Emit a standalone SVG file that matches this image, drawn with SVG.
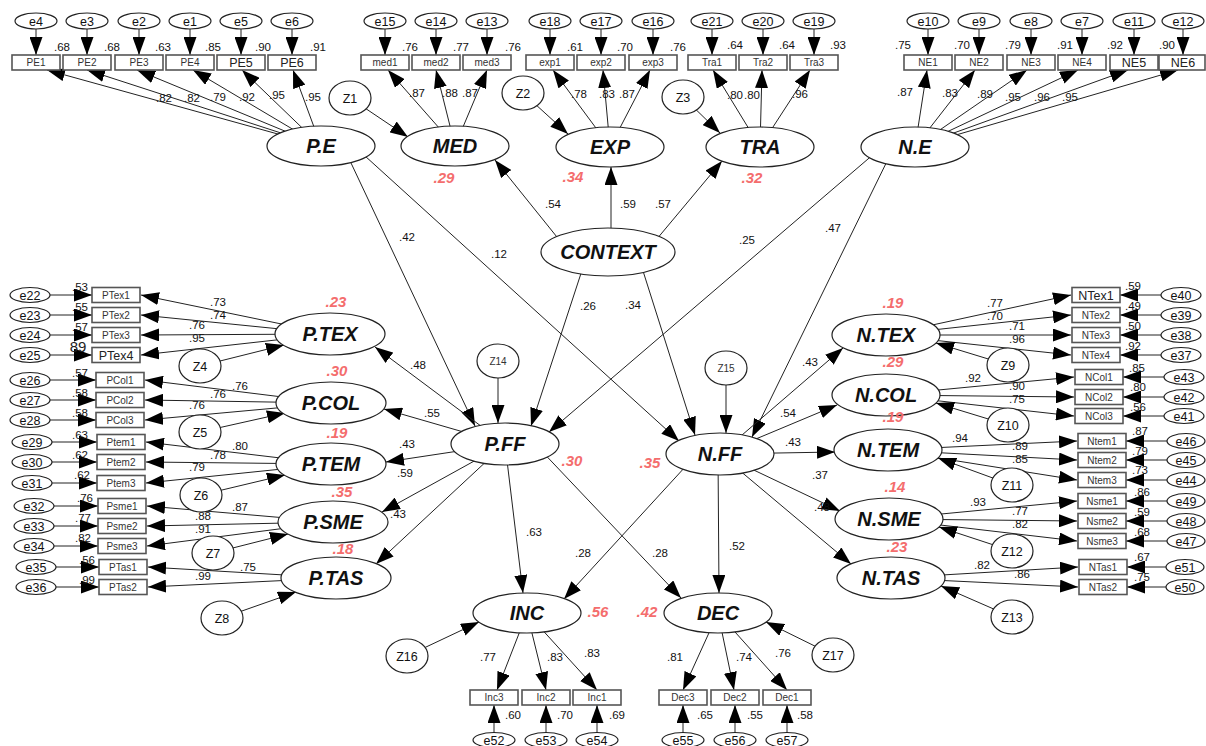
<svg xmlns="http://www.w3.org/2000/svg" width="1206" height="746" viewBox="0 0 1206 746">
<defs>
<marker id="a" markerUnits="userSpaceOnUse" markerWidth="18" markerHeight="13" viewBox="0 0 18 13" refX="18" refY="6.5" orient="auto"><path d="M0,0 L18,6.5 L0,13 z" fill="#000"/></marker>
</defs>
<style>
line{stroke:#222;stroke-width:1;marker-end:url(#a)}
.L{fill:#fff;stroke:#222;stroke-width:1.2}
.B{fill:#fff;stroke:#555;stroke-width:1.6}
.E{fill:#fff;stroke:#222;stroke-width:1.2}
text{font-family:"Liberation Sans",Arial,sans-serif;text-anchor:middle;fill:#111}
.lt{font-size:20px;font-weight:bold;font-style:italic}
.bt{font-size:10px;fill:#333}
.bb{font-size:12.5px;fill:#222}
.et{font-size:12.5px}
.n{font-size:11.5px}
.r{font-size:15px;font-weight:bold;font-style:italic;fill:#f46d6d}
</style>
<rect width="1206" height="746" fill="#fff"/>
<g id="connectors">
<line x1="36" y1="21" x2="36" y2="55"/><line x1="87" y1="21" x2="87" y2="55"/><line x1="139" y1="21" x2="139" y2="55"/><line x1="190" y1="21" x2="190" y2="55"/><line x1="241" y1="21" x2="241" y2="55"/><line x1="292" y1="21" x2="292" y2="55"/>
<line x1="385" y1="21" x2="385" y2="55"/><line x1="436" y1="21" x2="436" y2="55"/><line x1="487" y1="21" x2="487" y2="55"/>
<line x1="550" y1="21" x2="550" y2="55"/><line x1="601" y1="21" x2="601" y2="55"/><line x1="653" y1="21" x2="653" y2="55"/>
<line x1="712" y1="21" x2="712" y2="55"/><line x1="763" y1="21" x2="763" y2="55"/><line x1="814" y1="21" x2="814" y2="55"/>
<line x1="928" y1="21" x2="928" y2="55"/><line x1="979" y1="21" x2="979" y2="55"/><line x1="1031" y1="21" x2="1031" y2="55"/><line x1="1082" y1="21" x2="1082" y2="55"/><line x1="1134" y1="21" x2="1134" y2="55"/><line x1="1183" y1="21" x2="1183" y2="55"/>
<line x1="321" y1="146" x2="47" y2="70"/><line x1="321" y1="146" x2="87" y2="70"/><line x1="321" y1="146" x2="137" y2="70"/><line x1="321" y1="146" x2="193" y2="70"/><line x1="321" y1="146" x2="242" y2="70"/><line x1="321" y1="146" x2="293" y2="70"/>
<line x1="455" y1="146" x2="388" y2="70"/><line x1="455" y1="146" x2="436" y2="70"/><line x1="455" y1="146" x2="487" y2="70"/>
<line x1="610" y1="147" x2="553" y2="70"/><line x1="610" y1="147" x2="603" y2="70"/><line x1="610" y1="147" x2="650" y2="70"/>
<line x1="760" y1="147" x2="713" y2="70"/><line x1="760" y1="147" x2="762" y2="70"/><line x1="760" y1="147" x2="810" y2="70"/>
<line x1="915" y1="147" x2="927" y2="70"/><line x1="915" y1="147" x2="975" y2="70"/><line x1="915" y1="147" x2="1027" y2="70"/><line x1="915" y1="147" x2="1078" y2="70"/><line x1="915" y1="147" x2="1128" y2="70"/><line x1="915" y1="147" x2="1178" y2="70"/>
<line x1="30" y1="295" x2="92" y2="295"/><line x1="30" y1="315" x2="92" y2="315"/><line x1="30" y1="335" x2="92" y2="335"/><line x1="30" y1="355" x2="92" y2="355"/>
<line x1="30" y1="380" x2="96" y2="380"/><line x1="30" y1="400" x2="96" y2="400"/><line x1="30" y1="420" x2="96" y2="420"/>
<line x1="32" y1="442" x2="97" y2="442"/><line x1="32" y1="462" x2="97" y2="462"/><line x1="32" y1="483" x2="97" y2="483"/>
<line x1="34" y1="506" x2="98" y2="506"/><line x1="34" y1="526" x2="98" y2="526"/><line x1="34" y1="546" x2="98" y2="546"/>
<line x1="36" y1="567" x2="99" y2="567"/><line x1="36" y1="587" x2="99" y2="587"/>
<line x1="330" y1="334" x2="141" y2="295"/><line x1="330" y1="334" x2="141" y2="315"/><line x1="330" y1="334" x2="141" y2="335"/><line x1="330" y1="334" x2="141" y2="355"/>
<line x1="331" y1="403" x2="145" y2="380"/><line x1="331" y1="403" x2="145" y2="400"/><line x1="331" y1="403" x2="145" y2="420"/>
<line x1="331" y1="464" x2="146" y2="442"/><line x1="331" y1="464" x2="146" y2="462"/><line x1="331" y1="464" x2="146" y2="483"/>
<line x1="333" y1="522" x2="147" y2="506"/><line x1="333" y1="522" x2="147" y2="526"/><line x1="333" y1="522" x2="147" y2="546"/>
<line x1="336" y1="578" x2="148" y2="567"/><line x1="336" y1="578" x2="148" y2="587"/>
<line x1="1181" y1="295" x2="1120" y2="295"/><line x1="1181" y1="315" x2="1120" y2="315"/><line x1="1181" y1="335" x2="1120" y2="335"/><line x1="1181" y1="355" x2="1120" y2="355"/>
<line x1="1184" y1="377" x2="1123" y2="377"/><line x1="1184" y1="397" x2="1123" y2="397"/><line x1="1184" y1="416" x2="1123" y2="416"/>
<line x1="1187" y1="441" x2="1126" y2="441"/><line x1="1187" y1="460" x2="1126" y2="460"/><line x1="1187" y1="480" x2="1126" y2="480"/>
<line x1="1187" y1="501" x2="1126" y2="501"/><line x1="1187" y1="521" x2="1126" y2="521"/><line x1="1187" y1="541" x2="1126" y2="541"/>
<line x1="1186" y1="567" x2="1127" y2="567"/><line x1="1186" y1="587" x2="1127" y2="587"/>
<line x1="886" y1="335" x2="1071" y2="295"/><line x1="886" y1="335" x2="1071" y2="315"/><line x1="886" y1="335" x2="1071" y2="335"/><line x1="886" y1="335" x2="1071" y2="355"/>
<line x1="886" y1="395" x2="1074" y2="377"/><line x1="886" y1="395" x2="1074" y2="397"/><line x1="886" y1="395" x2="1074" y2="416"/>
<line x1="888" y1="450" x2="1077" y2="441"/><line x1="888" y1="450" x2="1077" y2="460"/><line x1="888" y1="450" x2="1077" y2="480"/>
<line x1="889" y1="519" x2="1077" y2="501"/><line x1="889" y1="519" x2="1077" y2="521"/><line x1="889" y1="519" x2="1077" y2="541"/>
<line x1="891" y1="578" x2="1078" y2="567"/><line x1="891" y1="578" x2="1078" y2="587"/>
<line x1="527" y1="613" x2="497" y2="690"/><line x1="527" y1="613" x2="546" y2="690"/><line x1="527" y1="613" x2="597" y2="690"/>
<line x1="718" y1="613" x2="683" y2="690"/><line x1="718" y1="613" x2="734" y2="690"/><line x1="718" y1="613" x2="787" y2="690"/>
<line x1="494" y1="740" x2="494" y2="705"/><line x1="546" y1="740" x2="546" y2="705"/><line x1="597" y1="740" x2="597" y2="705"/>
<line x1="683" y1="740" x2="683" y2="705"/><line x1="735" y1="740" x2="735" y2="705"/><line x1="787" y1="740" x2="787" y2="705"/>
<line x1="350" y1="98" x2="408" y2="137"/><line x1="523" y1="93" x2="568" y2="134"/><line x1="683" y1="97" x2="720" y2="133"/>
<line x1="200" y1="366" x2="284" y2="345"/><line x1="200" y1="432" x2="285" y2="413"/><line x1="201" y1="495" x2="285" y2="475"/><line x1="213" y1="553" x2="288" y2="534"/><line x1="222" y1="618" x2="296" y2="592"/>
<line x1="1008" y1="365" x2="936" y2="343"/><line x1="1008" y1="425" x2="936" y2="403"/><line x1="1012" y1="485" x2="938" y2="458"/><line x1="1012" y1="551" x2="939" y2="527"/><line x1="1012" y1="617" x2="941" y2="586"/>
<line x1="498" y1="361" x2="498" y2="423"/><line x1="726" y1="368" x2="726" y2="433"/>
<line x1="407" y1="656" x2="479" y2="622"/><line x1="833" y1="655" x2="766" y2="622"/>
<line x1="343" y1="146" x2="475" y2="426"/><line x1="354" y1="146" x2="679" y2="441"/>
<line x1="569" y1="252" x2="495" y2="160"/><line x1="611" y1="252" x2="611" y2="167"/><line x1="646" y1="252" x2="722" y2="161"/>
<line x1="588" y1="252" x2="531" y2="426"/><line x1="637" y1="252" x2="695" y2="435"/>
<line x1="882" y1="147" x2="549" y2="432"/><line x1="894" y1="147" x2="752" y2="437"/>
<line x1="505" y1="444" x2="375" y2="347"/><line x1="505" y1="444" x2="384" y2="409"/><line x1="505" y1="444" x2="386" y2="462"/><line x1="505" y1="444" x2="382" y2="512"/><line x1="505" y1="444" x2="376" y2="564"/>
<line x1="505" y1="444" x2="523" y2="593"/><line x1="535" y1="444" x2="681" y2="598"/>
<line x1="697" y1="454" x2="564" y2="599"/><line x1="718" y1="454" x2="719" y2="593"/>
<line x1="720" y1="454" x2="843" y2="348"/><line x1="720" y1="454" x2="837" y2="405"/><line x1="720" y1="454" x2="835" y2="452"/><line x1="720" y1="454" x2="840" y2="511"/><line x1="720" y1="454" x2="851" y2="564"/>
</g>
<g id="PE"><ellipse class="L" cx="321" cy="146" rx="54" ry="20"/><text class="lt" x="321" y="153">P.E</text></g>
<g id="MED"><ellipse class="L" cx="455" cy="146" rx="54" ry="20"/><text class="lt" x="455" y="153">MED</text><text class="r" x="444" y="183">.29</text></g>
<g id="EXP"><ellipse class="L" cx="610" cy="147" rx="54" ry="20"/><text class="lt" x="610" y="154">EXP</text><text class="r" x="573" y="182">.34</text></g>
<g id="TRA"><ellipse class="L" cx="760" cy="147" rx="54" ry="20"/><text class="lt" x="760" y="154">TRA</text><text class="r" x="752" y="183">.32</text></g>
<g id="NE"><ellipse class="L" cx="915" cy="147" rx="54" ry="20"/><text class="lt" x="915" y="154">N.E</text></g>
<g id="CONTEXT"><ellipse class="L" cx="608" cy="252" rx="67" ry="24"/><text class="lt" x="608" y="259">CONTEXT</text></g>
<g id="PTEX"><ellipse class="L" cx="330" cy="334" rx="55" ry="21"/><text class="lt" x="330" y="341">P.TEX</text><text class="r" x="336" y="307">.23</text></g>
<g id="PCOL"><ellipse class="L" cx="331" cy="403" rx="55" ry="21"/><text class="lt" x="331" y="410">P.COL</text><text class="r" x="337" y="376">.30</text></g>
<g id="PTEM"><ellipse class="L" cx="331" cy="464" rx="55" ry="21"/><text class="lt" x="331" y="471">P.TEM</text><text class="r" x="337" y="438">.19</text></g>
<g id="PSME"><ellipse class="L" cx="333" cy="522" rx="55" ry="21"/><text class="lt" x="333" y="529">P.SME</text><text class="r" x="342" y="497">.35</text></g>
<g id="PTAS"><ellipse class="L" cx="336" cy="578" rx="55" ry="21"/><text class="lt" x="336" y="585">P.TAS</text><text class="r" x="343" y="554">.18</text></g>
<g id="PFF"><ellipse class="L" cx="505" cy="444" rx="54" ry="21"/><text class="lt" x="505" y="451">P.FF</text><text class="r" x="572" y="466">.30</text></g>
<g id="NFF"><ellipse class="L" cx="720" cy="454" rx="54" ry="21"/><text class="lt" x="720" y="461">N.FF</text><text class="r" x="650" y="468">.35</text></g>
<g id="NTEX"><ellipse class="L" cx="886" cy="335" rx="54" ry="21"/><text class="lt" x="886" y="342">N.TEX</text><text class="r" x="893" y="308">.19</text></g>
<g id="NCOL"><ellipse class="L" cx="886" cy="395" rx="54" ry="21"/><text class="lt" x="886" y="402">N.COL</text><text class="r" x="893" y="367">.29</text></g>
<g id="NTEM"><ellipse class="L" cx="888" cy="450" rx="54" ry="21"/><text class="lt" x="888" y="457">N.TEM</text><text class="r" x="893" y="422">.19</text></g>
<g id="NSME"><ellipse class="L" cx="889" cy="519" rx="54" ry="21"/><text class="lt" x="889" y="526">N.SME</text><text class="r" x="895" y="492">.14</text></g>
<g id="NTAS"><ellipse class="L" cx="891" cy="578" rx="54" ry="21"/><text class="lt" x="891" y="585">N.TAS</text><text class="r" x="897" y="552">.23</text></g>
<g id="INC"><ellipse class="L" cx="527" cy="613" rx="54" ry="20"/><text class="lt" x="527" y="620">INC</text><text class="r" x="598" y="617">.56</text></g>
<g id="DEC"><ellipse class="L" cx="718" cy="613" rx="54" ry="20"/><text class="lt" x="718" y="620">DEC</text><text class="r" x="647" y="617">.42</text></g>
<g id="Z1"><ellipse class="E" cx="350" cy="98" rx="21" ry="17"/><text class="et" x="350" y="103">Z1</text></g>
<g id="Z2"><ellipse class="E" cx="523" cy="93" rx="21" ry="17"/><text class="et" x="523" y="98">Z2</text></g>
<g id="Z3"><ellipse class="E" cx="683" cy="97" rx="21" ry="17"/><text class="et" x="683" y="102">Z3</text></g>
<g id="Z4"><ellipse class="E" cx="200" cy="366" rx="21" ry="17"/><text class="et" x="200" y="371">Z4</text></g>
<g id="Z5"><ellipse class="E" cx="200" cy="432" rx="21" ry="17"/><text class="et" x="200" y="437">Z5</text></g>
<g id="Z6"><ellipse class="E" cx="201" cy="495" rx="21" ry="17"/><text class="et" x="201" y="500">Z6</text></g>
<g id="Z7"><ellipse class="E" cx="213" cy="553" rx="21" ry="17"/><text class="et" x="213" y="558">Z7</text></g>
<g id="Z8"><ellipse class="E" cx="222" cy="618" rx="21" ry="17"/><text class="et" x="222" y="623">Z8</text></g>
<g id="Z9"><ellipse class="E" cx="1008" cy="365" rx="21" ry="17"/><text class="et" x="1008" y="370">Z9</text></g>
<g id="Z10"><ellipse class="E" cx="1008" cy="425" rx="21" ry="17"/><text class="et" x="1008" y="430">Z10</text></g>
<g id="Z11"><ellipse class="E" cx="1012" cy="485" rx="21" ry="17"/><text class="et" x="1012" y="490">Z11</text></g>
<g id="Z12"><ellipse class="E" cx="1012" cy="551" rx="21" ry="17"/><text class="et" x="1012" y="556">Z12</text></g>
<g id="Z13"><ellipse class="E" cx="1012" cy="617" rx="21" ry="17"/><text class="et" x="1012" y="622">Z13</text></g>
<g id="Z14"><ellipse class="E" cx="498" cy="361" rx="21" ry="17"/><text class="bt" x="498" y="365">Z14</text></g>
<g id="Z15"><ellipse class="E" cx="726" cy="368" rx="21" ry="17"/><text class="bt" x="726" y="372">Z15</text></g>
<g id="Z16"><ellipse class="E" cx="407" cy="656" rx="21" ry="17"/><text class="et" x="407" y="661">Z16</text></g>
<g id="Z17"><ellipse class="E" cx="833" cy="655" rx="21" ry="17"/><text class="et" x="833" y="660">Z17</text></g>
<g id="PE1"><rect class="B" x="12" y="55" width="48" height="15"/><text class="bt" x="36" y="66">PE1</text></g>
<g id="PE2"><rect class="B" x="63" y="55" width="48" height="15"/><text class="bt" x="87" y="66">PE2</text></g>
<g id="PE3"><rect class="B" x="115" y="55" width="48" height="15"/><text class="bt" x="139" y="66">PE3</text></g>
<g id="PE4"><rect class="B" x="166" y="55" width="48" height="15"/><text class="bt" x="190" y="66">PE4</text></g>
<g id="PE5"><rect class="B" x="217" y="55" width="48" height="15"/><text class="bb" x="241" y="67">PE5</text></g>
<g id="PE6"><rect class="B" x="268" y="55" width="48" height="15"/><text class="bb" x="292" y="67">PE6</text></g>
<g id="med1"><rect class="B" x="361" y="55" width="48" height="15"/><text class="bt" x="385" y="66">med1</text></g>
<g id="med2"><rect class="B" x="412" y="55" width="48" height="15"/><text class="bt" x="436" y="66">med2</text></g>
<g id="med3"><rect class="B" x="463" y="55" width="48" height="15"/><text class="bt" x="487" y="66">med3</text></g>
<g id="exp1"><rect class="B" x="526" y="55" width="48" height="15"/><text class="bt" x="550" y="66">exp1</text></g>
<g id="exp2"><rect class="B" x="577" y="55" width="48" height="15"/><text class="bt" x="601" y="66">exp2</text></g>
<g id="exp3"><rect class="B" x="629" y="55" width="48" height="15"/><text class="bt" x="653" y="66">exp3</text></g>
<g id="Tra1"><rect class="B" x="688" y="55" width="48" height="15"/><text class="bt" x="712" y="66">Tra1</text></g>
<g id="Tra2"><rect class="B" x="739" y="55" width="48" height="15"/><text class="bt" x="763" y="66">Tra2</text></g>
<g id="Tra3"><rect class="B" x="790" y="55" width="48" height="15"/><text class="bt" x="814" y="66">Tra3</text></g>
<g id="NE1"><rect class="B" x="904" y="55" width="48" height="15"/><text class="bt" x="928" y="66">NE1</text></g>
<g id="NE2"><rect class="B" x="955" y="55" width="48" height="15"/><text class="bt" x="979" y="66">NE2</text></g>
<g id="NE3"><rect class="B" x="1007" y="55" width="48" height="15"/><text class="bt" x="1031" y="66">NE3</text></g>
<g id="NE4"><rect class="B" x="1058" y="55" width="48" height="15"/><text class="bt" x="1082" y="66">NE4</text></g>
<g id="NE5"><rect class="B" x="1110" y="55" width="48" height="15"/><text class="bb" x="1134" y="67">NE5</text></g>
<g id="NE6"><rect class="B" x="1159" y="55" width="46" height="15"/><text class="bb" x="1183" y="67">NE6</text></g>
<g id="e4"><ellipse class="E" cx="36" cy="21" rx="21" ry="8"/><text class="et" x="36" y="25.5">e4</text></g>
<g id="e3"><ellipse class="E" cx="87" cy="21" rx="21" ry="8"/><text class="et" x="87" y="25.5">e3</text></g>
<g id="e2"><ellipse class="E" cx="139" cy="21" rx="21" ry="8"/><text class="et" x="139" y="25.5">e2</text></g>
<g id="e1"><ellipse class="E" cx="190" cy="21" rx="21" ry="8"/><text class="et" x="190" y="25.5">e1</text></g>
<g id="e5"><ellipse class="E" cx="241" cy="21" rx="21" ry="8"/><text class="et" x="241" y="25.5">e5</text></g>
<g id="e6"><ellipse class="E" cx="292" cy="21" rx="21" ry="8"/><text class="et" x="292" y="25.5">e6</text></g>
<g id="e15"><ellipse class="E" cx="385" cy="21" rx="21" ry="8"/><text class="et" x="385" y="25.5">e15</text></g>
<g id="e14"><ellipse class="E" cx="436" cy="21" rx="21" ry="8"/><text class="et" x="436" y="25.5">e14</text></g>
<g id="e13"><ellipse class="E" cx="487" cy="21" rx="21" ry="8"/><text class="et" x="487" y="25.5">e13</text></g>
<g id="e18"><ellipse class="E" cx="550" cy="21" rx="21" ry="8"/><text class="et" x="550" y="25.5">e18</text></g>
<g id="e17"><ellipse class="E" cx="601" cy="21" rx="21" ry="8"/><text class="et" x="601" y="25.5">e17</text></g>
<g id="e16"><ellipse class="E" cx="653" cy="21" rx="21" ry="8"/><text class="et" x="653" y="25.5">e16</text></g>
<g id="e21"><ellipse class="E" cx="712" cy="21" rx="21" ry="8"/><text class="et" x="712" y="25.5">e21</text></g>
<g id="e20"><ellipse class="E" cx="763" cy="21" rx="21" ry="8"/><text class="et" x="763" y="25.5">e20</text></g>
<g id="e19"><ellipse class="E" cx="814" cy="21" rx="21" ry="8"/><text class="et" x="814" y="25.5">e19</text></g>
<g id="e10"><ellipse class="E" cx="928" cy="21" rx="21" ry="8"/><text class="et" x="928" y="25.5">e10</text></g>
<g id="e9"><ellipse class="E" cx="979" cy="21" rx="21" ry="8"/><text class="et" x="979" y="25.5">e9</text></g>
<g id="e8"><ellipse class="E" cx="1031" cy="21" rx="21" ry="8"/><text class="et" x="1031" y="25.5">e8</text></g>
<g id="e7"><ellipse class="E" cx="1082" cy="21" rx="21" ry="8"/><text class="et" x="1082" y="25.5">e7</text></g>
<g id="e11"><ellipse class="E" cx="1134" cy="21" rx="21" ry="8"/><text class="et" x="1134" y="25.5">e11</text></g>
<g id="e12"><ellipse class="E" cx="1183" cy="21" rx="21" ry="8"/><text class="et" x="1183" y="25.5">e12</text></g>
<g id="PTex1"><rect class="B" x="92" y="287.5" width="48" height="15"/><text class="bt" x="116" y="298.5">PTex1</text></g>
<g id="PTex2"><rect class="B" x="92" y="307.5" width="48" height="15"/><text class="bt" x="116" y="318.5">PTex2</text></g>
<g id="PTex3"><rect class="B" x="92" y="327.5" width="48" height="15"/><text class="bt" x="116" y="338.5">PTex3</text></g>
<g id="PTex4"><rect class="B" x="92" y="347.5" width="48" height="15"/><text class="bb" x="116" y="359.5">PTex4</text></g>
<g id="PCol1"><rect class="B" x="96" y="372.5" width="48" height="15"/><text class="bt" x="120" y="383.5">PCol1</text></g>
<g id="PCol2"><rect class="B" x="96" y="392.5" width="48" height="15"/><text class="bt" x="120" y="403.5">PCol2</text></g>
<g id="PCol3"><rect class="B" x="96" y="412.5" width="48" height="15"/><text class="bt" x="120" y="423.5">PCol3</text></g>
<g id="Ptem1"><rect class="B" x="97" y="434.5" width="48" height="15"/><text class="bt" x="121" y="445.5">Ptem1</text></g>
<g id="Ptem2"><rect class="B" x="97" y="454.5" width="48" height="15"/><text class="bt" x="121" y="465.5">Ptem2</text></g>
<g id="Ptem3"><rect class="B" x="97" y="475.5" width="48" height="15"/><text class="bt" x="121" y="486.5">Ptem3</text></g>
<g id="Psme1"><rect class="B" x="98" y="498.5" width="48" height="15"/><text class="bt" x="122" y="509.5">Psme1</text></g>
<g id="Psme2"><rect class="B" x="98" y="518.5" width="48" height="15"/><text class="bt" x="122" y="529.5">Psme2</text></g>
<g id="Psme3"><rect class="B" x="98" y="538.5" width="48" height="15"/><text class="bt" x="122" y="549.5">Psme3</text></g>
<g id="PTas1"><rect class="B" x="99" y="559.5" width="48" height="15"/><text class="bt" x="123" y="570.5">PTas1</text></g>
<g id="PTas2"><rect class="B" x="99" y="579.5" width="48" height="15"/><text class="bt" x="123" y="590.5">PTas2</text></g>
<g id="e22"><ellipse class="E" cx="30" cy="295" rx="20" ry="7.5"/><text class="et" x="30" y="299.5">e22</text></g>
<g id="e23"><ellipse class="E" cx="30" cy="315" rx="20" ry="7.5"/><text class="et" x="30" y="319.5">e23</text></g>
<g id="e24"><ellipse class="E" cx="30" cy="335" rx="20" ry="7.5"/><text class="et" x="30" y="339.5">e24</text></g>
<g id="e25"><ellipse class="E" cx="30" cy="355" rx="20" ry="7.5"/><text class="et" x="30" y="359.5">e25</text></g>
<g id="e26"><ellipse class="E" cx="30" cy="380" rx="20" ry="7.5"/><text class="et" x="30" y="384.5">e26</text></g>
<g id="e27"><ellipse class="E" cx="30" cy="400" rx="20" ry="7.5"/><text class="et" x="30" y="404.5">e27</text></g>
<g id="e28"><ellipse class="E" cx="30" cy="420" rx="20" ry="7.5"/><text class="et" x="30" y="424.5">e28</text></g>
<g id="e29"><ellipse class="E" cx="32" cy="442" rx="20" ry="7.5"/><text class="et" x="32" y="446.5">e29</text></g>
<g id="e30"><ellipse class="E" cx="32" cy="462" rx="20" ry="7.5"/><text class="et" x="32" y="466.5">e30</text></g>
<g id="e31"><ellipse class="E" cx="32" cy="483" rx="20" ry="7.5"/><text class="et" x="32" y="487.5">e31</text></g>
<g id="e32"><ellipse class="E" cx="34" cy="506" rx="20" ry="7.5"/><text class="et" x="34" y="510.5">e32</text></g>
<g id="e33"><ellipse class="E" cx="34" cy="526" rx="20" ry="7.5"/><text class="et" x="34" y="530.5">e33</text></g>
<g id="e34"><ellipse class="E" cx="34" cy="546" rx="20" ry="7.5"/><text class="et" x="34" y="550.5">e34</text></g>
<g id="e35"><ellipse class="E" cx="36" cy="567" rx="20" ry="7.5"/><text class="et" x="36" y="571.5">e35</text></g>
<g id="e36"><ellipse class="E" cx="36" cy="587" rx="20" ry="7.5"/><text class="et" x="36" y="591.5">e36</text></g>
<g id="NTex1"><rect class="B" x="1072" y="287.5" width="48" height="15"/><text class="bb" x="1096" y="299.5">NTex1</text></g>
<g id="NTex2"><rect class="B" x="1072" y="307.5" width="48" height="15"/><text class="bt" x="1096" y="318.5">NTex2</text></g>
<g id="NTex3"><rect class="B" x="1072" y="327.5" width="48" height="15"/><text class="bt" x="1096" y="338.5">NTex3</text></g>
<g id="NTex4"><rect class="B" x="1072" y="347.5" width="48" height="15"/><text class="bt" x="1096" y="358.5">NTex4</text></g>
<g id="NCol1"><rect class="B" x="1075" y="369.5" width="48" height="15"/><text class="bt" x="1099" y="380.5">NCol1</text></g>
<g id="NCol2"><rect class="B" x="1075" y="389.5" width="48" height="15"/><text class="bt" x="1099" y="400.5">NCol2</text></g>
<g id="NCol3"><rect class="B" x="1075" y="408.5" width="48" height="15"/><text class="bt" x="1099" y="419.5">NCol3</text></g>
<g id="Ntem1"><rect class="B" x="1078" y="433.5" width="48" height="15"/><text class="bt" x="1102" y="444.5">Ntem1</text></g>
<g id="Ntem2"><rect class="B" x="1078" y="452.5" width="48" height="15"/><text class="bt" x="1102" y="463.5">Ntem2</text></g>
<g id="Ntem3"><rect class="B" x="1078" y="472.5" width="48" height="15"/><text class="bt" x="1102" y="483.5">Ntem3</text></g>
<g id="Nsme1"><rect class="B" x="1078" y="493.5" width="48" height="15"/><text class="bt" x="1102" y="504.5">Nsme1</text></g>
<g id="Nsme2"><rect class="B" x="1078" y="513.5" width="48" height="15"/><text class="bt" x="1102" y="524.5">Nsme2</text></g>
<g id="Nsme3"><rect class="B" x="1078" y="533.5" width="48" height="15"/><text class="bt" x="1102" y="544.5">Nsme3</text></g>
<g id="NTas1"><rect class="B" x="1079" y="559.5" width="48" height="15"/><text class="bt" x="1103" y="570.5">NTas1</text></g>
<g id="NTas2"><rect class="B" x="1079" y="579.5" width="48" height="15"/><text class="bt" x="1103" y="590.5">NTas2</text></g>
<g id="e40"><ellipse class="E" cx="1181" cy="295" rx="20" ry="7.5"/><text class="et" x="1181" y="299.5">e40</text></g>
<g id="e39"><ellipse class="E" cx="1181" cy="315" rx="20" ry="7.5"/><text class="et" x="1181" y="319.5">e39</text></g>
<g id="e38"><ellipse class="E" cx="1181" cy="335" rx="20" ry="7.5"/><text class="et" x="1181" y="339.5">e38</text></g>
<g id="e37"><ellipse class="E" cx="1181" cy="355" rx="20" ry="7.5"/><text class="et" x="1181" y="359.5">e37</text></g>
<g id="e43"><ellipse class="E" cx="1184" cy="377" rx="20" ry="7.5"/><text class="et" x="1184" y="381.5">e43</text></g>
<g id="e42"><ellipse class="E" cx="1184" cy="397" rx="20" ry="7.5"/><text class="et" x="1184" y="401.5">e42</text></g>
<g id="e41"><ellipse class="E" cx="1184" cy="416" rx="20" ry="7.5"/><text class="et" x="1184" y="420.5">e41</text></g>
<g id="e46"><ellipse class="E" cx="1186" cy="441" rx="19" ry="7.5"/><text class="et" x="1186" y="445.5">e46</text></g>
<g id="e45"><ellipse class="E" cx="1186" cy="460" rx="19" ry="7.5"/><text class="et" x="1186" y="464.5">e45</text></g>
<g id="e44"><ellipse class="E" cx="1186" cy="480" rx="19" ry="7.5"/><text class="et" x="1186" y="484.5">e44</text></g>
<g id="e49"><ellipse class="E" cx="1186" cy="501" rx="19" ry="7.5"/><text class="et" x="1186" y="505.5">e49</text></g>
<g id="e48"><ellipse class="E" cx="1186" cy="521" rx="19" ry="7.5"/><text class="et" x="1186" y="525.5">e48</text></g>
<g id="e47"><ellipse class="E" cx="1186" cy="541" rx="19" ry="7.5"/><text class="et" x="1186" y="545.5">e47</text></g>
<g id="e51"><ellipse class="E" cx="1185" cy="567" rx="19" ry="7.5"/><text class="et" x="1185" y="571.5">e51</text></g>
<g id="e50"><ellipse class="E" cx="1185" cy="587" rx="19" ry="7.5"/><text class="et" x="1185" y="591.5">e50</text></g>
<g id="Inc3"><rect class="B" x="470" y="690" width="48" height="15"/><text class="bt" x="494" y="701">Inc3</text></g>
<g id="Inc2"><rect class="B" x="522" y="690" width="48" height="15"/><text class="bt" x="546" y="701">Inc2</text></g>
<g id="Inc1"><rect class="B" x="573" y="690" width="48" height="15"/><text class="bt" x="597" y="701">Inc1</text></g>
<g id="Dec3"><rect class="B" x="659" y="690" width="48" height="15"/><text class="bt" x="683" y="701">Dec3</text></g>
<g id="Dec2"><rect class="B" x="711" y="690" width="48" height="15"/><text class="bt" x="735" y="701">Dec2</text></g>
<g id="Dec1"><rect class="B" x="763" y="690" width="48" height="15"/><text class="bt" x="787" y="701">Dec1</text></g>
<g id="e52"><ellipse class="E" cx="494" cy="740" rx="21" ry="7.5"/><text class="et" x="494" y="744.5">e52</text></g>
<g id="e53"><ellipse class="E" cx="546" cy="740" rx="21" ry="7.5"/><text class="et" x="546" y="744.5">e53</text></g>
<g id="e54"><ellipse class="E" cx="597" cy="740" rx="21" ry="7.5"/><text class="et" x="597" y="744.5">e54</text></g>
<g id="e55"><ellipse class="E" cx="683" cy="740" rx="21" ry="7.5"/><text class="et" x="683" y="744.5">e55</text></g>
<g id="e56"><ellipse class="E" cx="735" cy="740" rx="21" ry="7.5"/><text class="et" x="735" y="744.5">e56</text></g>
<g id="e57"><ellipse class="E" cx="787" cy="740" rx="21" ry="7.5"/><text class="et" x="787" y="744.5">e57</text></g>
<g id="labels">
<text class="n" x="62" y="51">.68</text><text class="n" x="112" y="51">.68</text><text class="n" x="163" y="51">.63</text><text class="n" x="213" y="51">.85</text><text class="n" x="263" y="51">.90</text><text class="n" x="318" y="51">.91</text>
<text class="n" x="410" y="51">.76</text><text class="n" x="461" y="51">.77</text><text class="n" x="513" y="51">.76</text>
<text class="n" x="575" y="51">.61</text><text class="n" x="625" y="51">.70</text><text class="n" x="678" y="51">.76</text>
<text class="n" x="735" y="49">.64</text><text class="n" x="787" y="49">.64</text><text class="n" x="838" y="49">.93</text>
<text class="n" x="903" y="49">.75</text><text class="n" x="962" y="49">.70</text><text class="n" x="1013" y="49">.79</text><text class="n" x="1065" y="49">.91</text><text class="n" x="1115" y="49">.92</text><text class="n" x="1167" y="49">.90</text>
<text class="n" x="164" y="102">.82</text><text class="n" x="192" y="102">.82</text><text class="n" x="218" y="101">.79</text><text class="n" x="247" y="101">.92</text><text class="n" x="277" y="99">.95</text><text class="n" x="313" y="101">.95</text>
<text class="n" x="417" y="97">.87</text><text class="n" x="450" y="97">.88</text><text class="n" x="470" y="97">.87</text>
<text class="n" x="579" y="98">.78</text><text class="n" x="607" y="98">.83</text><text class="n" x="627" y="98">.87</text>
<text class="n" x="735" y="99">.80</text><text class="n" x="752" y="99">.80</text><text class="n" x="800" y="98">.96</text>
<text class="n" x="905" y="96">.87</text><text class="n" x="950" y="97">.83</text><text class="n" x="985" y="98">.89</text><text class="n" x="1013" y="101">.95</text><text class="n" x="1042" y="101">.96</text><text class="n" x="1070" y="101">.95</text>
<text class="n" x="80" y="291">.53</text><text class="n" x="80" y="311">.55</text><text class="n" x="80" y="331">.57</text><text class="bb" x="78" y="352" style="font-size:15px">89</text>
<text class="n" x="80" y="377">.57</text><text class="n" x="80" y="397">.58</text><text class="n" x="80" y="417">.58</text>
<text class="n" x="80" y="439">.63</text><text class="n" x="80" y="459">.62</text><text class="n" x="82" y="479">.62</text>
<text class="n" x="85" y="502">.76</text><text class="n" x="83" y="522">.77</text><text class="n" x="83" y="542">.82</text>
<text class="n" x="87" y="564">.56</text><text class="n" x="87" y="584">.99</text>
<text class="n" x="218" y="306">.73</text><text class="n" x="218" y="319">.74</text><text class="n" x="197" y="329">.76</text><text class="n" x="197" y="342">.95</text>
<text class="n" x="240" y="390">.76</text><text class="n" x="218" y="398">.76</text><text class="n" x="197" y="409">.76</text>
<text class="n" x="240" y="450">.80</text><text class="n" x="218" y="459">.78</text><text class="n" x="197" y="471">.79</text>
<text class="n" x="240" y="511">.87</text><text class="n" x="203" y="520">.88</text><text class="n" x="203" y="533">.91</text>
<text class="n" x="248" y="571">.75</text><text class="n" x="203" y="580">.99</text>
<text class="n" x="1133" y="290">.59</text><text class="n" x="1133" y="310">.49</text><text class="n" x="1133" y="330">.50</text><text class="n" x="1133" y="350">.92</text>
<text class="n" x="1137" y="372">.85</text><text class="n" x="1138" y="391">.80</text><text class="n" x="1138" y="411">.56</text>
<text class="n" x="1140" y="435">.87</text><text class="n" x="1140" y="455">.79</text><text class="n" x="1140" y="474">.73</text>
<text class="n" x="1142" y="496">.86</text><text class="n" x="1142" y="516">.59</text><text class="n" x="1142" y="536">.68</text>
<text class="n" x="1142" y="561">.67</text><text class="n" x="1142" y="581">.75</text>
<text class="n" x="995" y="307">.77</text><text class="n" x="995" y="320">.70</text><text class="n" x="1017" y="330">.71</text><text class="n" x="1017" y="343">.96</text>
<text class="n" x="973" y="382">.92</text><text class="n" x="1017" y="390">.90</text><text class="n" x="1017" y="403">.75</text>
<text class="n" x="960" y="442">.94</text><text class="n" x="1020" y="450">.89</text><text class="n" x="1020" y="463">.85</text>
<text class="n" x="978" y="506">.93</text><text class="n" x="1020" y="515">.77</text><text class="n" x="1020" y="528">.82</text>
<text class="n" x="982" y="569">.82</text><text class="n" x="1022" y="578">.86</text>
<text class="n" x="488" y="661">.77</text><text class="n" x="555" y="661">.83</text><text class="n" x="592" y="657">.83</text>
<text class="n" x="675" y="661">.81</text><text class="n" x="744" y="661">.74</text><text class="n" x="783" y="657">.76</text>
<text class="n" x="513" y="719">.60</text><text class="n" x="565" y="719">.70</text><text class="n" x="617" y="719">.69</text>
<text class="n" x="705" y="719">.65</text><text class="n" x="755" y="719">.55</text><text class="n" x="805" y="719">.58</text>
<text class="n" x="407" y="241">.42</text><text class="n" x="499" y="258">.12</text>
<text class="n" x="553" y="208">.54</text><text class="n" x="628" y="208">.59</text><text class="n" x="663" y="208">.57</text>
<text class="n" x="588" y="310">.26</text><text class="n" x="633" y="309">.34</text>
<text class="n" x="747" y="244">.25</text><text class="n" x="833" y="232">.47</text>
<text class="n" x="418" y="369">.48</text><text class="n" x="432" y="417">.55</text><text class="n" x="407" y="448">.43</text><text class="n" x="405" y="477">.59</text><text class="n" x="398" y="518">.43</text>
<text class="n" x="534" y="536">.63</text><text class="n" x="583" y="557">.28</text><text class="n" x="660" y="557">.28</text><text class="n" x="737" y="550">.52</text>
<text class="n" x="810" y="366">.43</text><text class="n" x="788" y="417">.54</text><text class="n" x="793" y="446">.43</text><text class="n" x="820" y="479">.37</text><text class="n" x="822" y="511">.48</text>
</g>
</svg>
